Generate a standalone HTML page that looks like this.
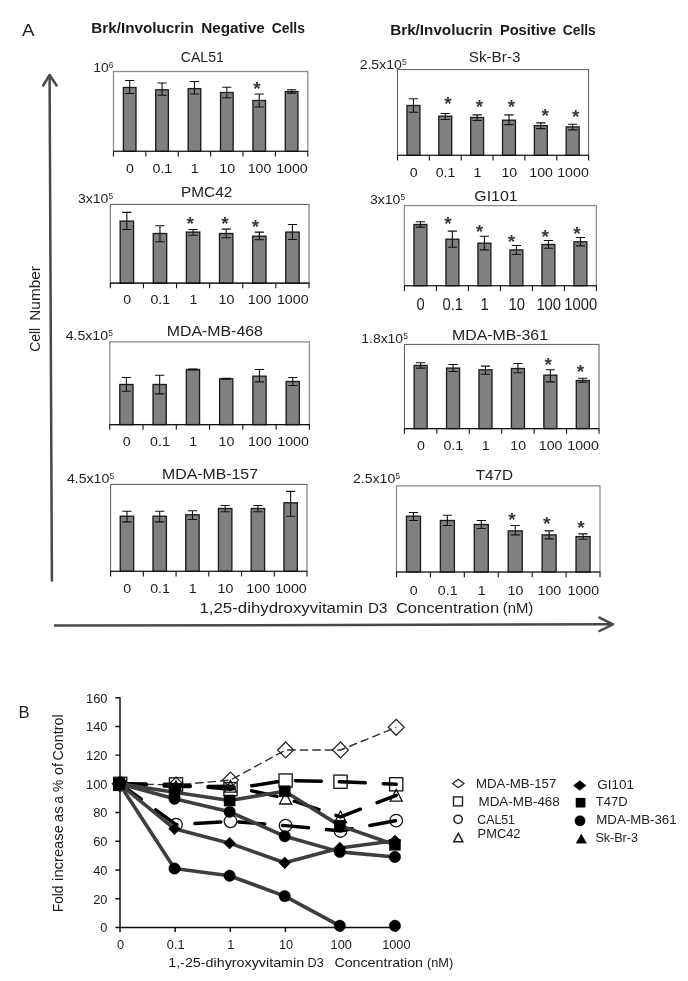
<!DOCTYPE html>
<html lang="en">
<head>
<meta charset="utf-8">
<title>Figure: Cell number vs 1,25-dihydroxyvitamin D3 concentration</title>
<style>
html,body{margin:0;padding:0;background:#fff;}
body{width:688px;height:981px;position:relative;overflow:hidden;font-family:'Liberation Sans', Arial, sans-serif;}
svg text{white-space:pre;}
</style>
</head>
<body>
<svg width="688" height="981" viewBox="0 0 688 981" style="display:block;position:absolute;left:0;top:0">
<rect width="688" height="981" fill="#fff"/>
<text x="22" y="35.7" font-family="'Liberation Sans', Arial, sans-serif" font-size="16.5" fill="#222" textLength="12.5" lengthAdjust="spacingAndGlyphs">A</text>
<text x="91.3" y="32.7" font-family="'Liberation Sans', Arial, sans-serif" font-size="15" font-weight="bold" fill="#1a1a1a" textLength="102.5" lengthAdjust="spacingAndGlyphs">Brk/Involucrin</text>
<text x="201.2" y="32.7" font-family="'Liberation Sans', Arial, sans-serif" font-size="15" font-weight="bold" fill="#1a1a1a" textLength="63.6" lengthAdjust="spacingAndGlyphs">Negative</text>
<text x="271.7" y="32.7" font-family="'Liberation Sans', Arial, sans-serif" font-size="15" font-weight="bold" fill="#1a1a1a" textLength="33.2" lengthAdjust="spacingAndGlyphs">Cells</text>
<text x="390.2" y="34.8" font-family="'Liberation Sans', Arial, sans-serif" font-size="15" font-weight="bold" fill="#1a1a1a" textLength="102.5" lengthAdjust="spacingAndGlyphs">Brk/Involucrin</text>
<text x="499.9" y="34.8" font-family="'Liberation Sans', Arial, sans-serif" font-size="15" font-weight="bold" fill="#1a1a1a" textLength="56.2" lengthAdjust="spacingAndGlyphs">Positive</text>
<text x="562.7" y="34.8" font-family="'Liberation Sans', Arial, sans-serif" font-size="15" font-weight="bold" fill="#1a1a1a" textLength="33.1" lengthAdjust="spacingAndGlyphs">Cells</text>
<g fill="none" stroke="#484848" stroke-width="2.5" stroke-linecap="round" stroke-linejoin="round">
<path d="M51.9 580.5 L49.6 75.5"/>
<path d="M43.2 85.5 L49.6 75 L56.6 85.5"/>
<path d="M55 625.6 L612.5 624.3"/>
<path d="M599.5 617.6 L613 624.3 L599.5 631"/>
</g>
<text transform="translate(39.8,351.8) rotate(-90)" font-family="'Liberation Sans', Arial, sans-serif" font-size="14" fill="#222" textLength="24" lengthAdjust="spacingAndGlyphs">Cell</text>
<text transform="translate(39.8,320.8) rotate(-90)" font-family="'Liberation Sans', Arial, sans-serif" font-size="14" fill="#222" textLength="54.8" lengthAdjust="spacingAndGlyphs">Number</text>
<text x="199.5" y="612.5" font-family="'Liberation Sans', Arial, sans-serif" font-size="14" font-weight="normal" fill="#222" textLength="163.5" lengthAdjust="spacingAndGlyphs">1,25-dihydroxyvitamin</text>
<text x="368" y="612.5" font-family="'Liberation Sans', Arial, sans-serif" font-size="14" font-weight="normal" fill="#222" textLength="19.3" lengthAdjust="spacingAndGlyphs">D3</text>
<text x="395.9" y="612.5" font-family="'Liberation Sans', Arial, sans-serif" font-size="14" font-weight="normal" fill="#222" textLength="103.3" lengthAdjust="spacingAndGlyphs">Concentration</text>
<text x="502.7" y="612.5" font-family="'Liberation Sans', Arial, sans-serif" font-size="14" font-weight="normal" fill="#222" textLength="30.6" lengthAdjust="spacingAndGlyphs">(nM)</text>
<g>
<rect x="113.5" y="71.5" width="194.3" height="79.8" fill="#fff" stroke="#8c8c8c" stroke-width="1.3"/>
<rect x="123.39" y="87.5" width="12.6" height="63.8" fill="#808080" stroke="#1c1c1c" stroke-width="1.35"/>
<path d="M129.69 80.5V93.5M125.09 80.5H134.29M125.09 93.5H134.29" stroke="#111" stroke-width="1.1" fill="none"/>
<rect x="155.77" y="89.8" width="12.6" height="61.5" fill="#808080" stroke="#1c1c1c" stroke-width="1.35"/>
<path d="M162.07 83V95.3M157.47 83H166.67M157.47 95.3H166.67" stroke="#111" stroke-width="1.1" fill="none"/>
<rect x="188.16" y="88.6" width="12.6" height="62.7" fill="#808080" stroke="#1c1c1c" stroke-width="1.35"/>
<path d="M194.46 81.5V94M189.86 81.5H199.06M189.86 94H199.06" stroke="#111" stroke-width="1.1" fill="none"/>
<rect x="220.54" y="92.5" width="12.6" height="58.8" fill="#808080" stroke="#1c1c1c" stroke-width="1.35"/>
<path d="M226.84 87.3V97.8M222.24 87.3H231.44M222.24 97.8H231.44" stroke="#111" stroke-width="1.1" fill="none"/>
<rect x="252.93" y="100.5" width="12.6" height="50.8" fill="#808080" stroke="#1c1c1c" stroke-width="1.35"/>
<path d="M259.23 94V107M254.63 94H263.83M254.63 107H263.83" stroke="#111" stroke-width="1.1" fill="none"/>
<rect x="285.31" y="91.5" width="12.6" height="59.8" fill="#808080" stroke="#1c1c1c" stroke-width="1.35"/>
<path d="M291.61 89.8V93.1M287.01 89.8H296.21M287.01 93.1H296.21" stroke="#111" stroke-width="1.1" fill="none"/>
<path d="M113 151.3H308.3M113.5 151.3V156.5M145.88 151.3V156.5M178.27 151.3V156.5M210.65 151.3V156.5M243.03 151.3V156.5M275.42 151.3V156.5M307.8 151.3V156.5" stroke="#111" stroke-width="1.1" fill="none"/>
<text transform="translate(129.99,172.95) scale(1.06,1)" text-anchor="middle" font-family="'Liberation Sans', Arial, sans-serif" font-size="13.4" fill="#1a1a1a">0</text>
<text transform="translate(162.38,172.95) scale(1.06,1)" text-anchor="middle" font-family="'Liberation Sans', Arial, sans-serif" font-size="13.4" fill="#1a1a1a">0.1</text>
<text transform="translate(194.76,172.95) scale(1.06,1)" text-anchor="middle" font-family="'Liberation Sans', Arial, sans-serif" font-size="13.4" fill="#1a1a1a">1</text>
<text transform="translate(227.14,172.95) scale(1.06,1)" text-anchor="middle" font-family="'Liberation Sans', Arial, sans-serif" font-size="13.4" fill="#1a1a1a">10</text>
<text transform="translate(259.53,172.95) scale(1.06,1)" text-anchor="middle" font-family="'Liberation Sans', Arial, sans-serif" font-size="13.4" fill="#1a1a1a">100</text>
<text transform="translate(291.91,172.95) scale(1.06,1)" text-anchor="middle" font-family="'Liberation Sans', Arial, sans-serif" font-size="13.4" fill="#1a1a1a">1000</text>
<text x="180.8" y="62.3" font-family="'Liberation Sans', Arial, sans-serif" font-size="14.2" fill="#222" textLength="43.1" lengthAdjust="spacingAndGlyphs">CAL51</text>
<text x="93.15" y="71.9" font-family="'Liberation Sans', Arial, sans-serif" font-size="13.1" fill="#222" textLength="15.5" lengthAdjust="spacingAndGlyphs">10</text>
<text x="108.85" y="67.7" font-family="'Liberation Sans', Arial, sans-serif" font-size="8.4" fill="#333">6</text>
<text x="256.9" y="94.7" text-anchor="middle" font-family="'Liberation Sans', Arial, sans-serif" font-size="19" font-weight="bold" fill="#3a3a3a">*</text>
</g>
<g>
<rect x="110.3" y="204.4" width="198.7" height="78.7" fill="#fff" stroke="#5c5c5c" stroke-width="1.0"/>
<rect x="120.16" y="221.1" width="13.4" height="62" fill="#808080" stroke="#1c1c1c" stroke-width="1.35"/>
<path d="M126.86 212.4V229.5M122.26 212.4H131.46M122.26 229.5H131.46" stroke="#111" stroke-width="1.1" fill="none"/>
<rect x="153.28" y="233.5" width="13.4" height="49.6" fill="#808080" stroke="#1c1c1c" stroke-width="1.35"/>
<path d="M159.97 225.8V241.8M155.38 225.8H164.57M155.38 241.8H164.57" stroke="#111" stroke-width="1.1" fill="none"/>
<rect x="186.39" y="232.1" width="13.4" height="51" fill="#808080" stroke="#1c1c1c" stroke-width="1.35"/>
<path d="M193.09 229.5V235.2M188.49 229.5H197.69M188.49 235.2H197.69" stroke="#111" stroke-width="1.1" fill="none"/>
<rect x="219.51" y="233.5" width="13.4" height="49.6" fill="#808080" stroke="#1c1c1c" stroke-width="1.35"/>
<path d="M226.21 229.1V237.8M221.61 229.1H230.81M221.61 237.8H230.81" stroke="#111" stroke-width="1.1" fill="none"/>
<rect x="252.62" y="236.2" width="13.4" height="46.9" fill="#808080" stroke="#1c1c1c" stroke-width="1.35"/>
<path d="M259.32 232.1V239.8M254.72 232.1H263.93M254.72 239.8H263.93" stroke="#111" stroke-width="1.1" fill="none"/>
<rect x="285.74" y="232.1" width="13.4" height="51" fill="#808080" stroke="#1c1c1c" stroke-width="1.35"/>
<path d="M292.44 224.5V239.5M287.84 224.5H297.04M287.84 239.5H297.04" stroke="#111" stroke-width="1.1" fill="none"/>
<path d="M109.8 283.1H309.5M110.3 283.1V288.3M143.42 283.1V288.3M176.53 283.1V288.3M209.65 283.1V288.3M242.77 283.1V288.3M275.88 283.1V288.3M309 283.1V288.3" stroke="#111" stroke-width="1.1" fill="none"/>
<text transform="translate(127.16,304.4) scale(1.06,1)" text-anchor="middle" font-family="'Liberation Sans', Arial, sans-serif" font-size="13.4" fill="#1a1a1a">0</text>
<text transform="translate(160.28,304.4) scale(1.06,1)" text-anchor="middle" font-family="'Liberation Sans', Arial, sans-serif" font-size="13.4" fill="#1a1a1a">0.1</text>
<text transform="translate(193.39,304.4) scale(1.06,1)" text-anchor="middle" font-family="'Liberation Sans', Arial, sans-serif" font-size="13.4" fill="#1a1a1a">1</text>
<text transform="translate(226.51,304.4) scale(1.06,1)" text-anchor="middle" font-family="'Liberation Sans', Arial, sans-serif" font-size="13.4" fill="#1a1a1a">10</text>
<text transform="translate(259.62,304.4) scale(1.06,1)" text-anchor="middle" font-family="'Liberation Sans', Arial, sans-serif" font-size="13.4" fill="#1a1a1a">100</text>
<text transform="translate(292.74,304.4) scale(1.06,1)" text-anchor="middle" font-family="'Liberation Sans', Arial, sans-serif" font-size="13.4" fill="#1a1a1a">1000</text>
<text x="181.1" y="197.1" font-family="'Liberation Sans', Arial, sans-serif" font-size="14.2" fill="#222" textLength="51.1" lengthAdjust="spacingAndGlyphs">PMC42</text>
<text x="77.9" y="202.75" font-family="'Liberation Sans', Arial, sans-serif" font-size="13.1" fill="#222" textLength="30.45" lengthAdjust="spacingAndGlyphs">3x10</text>
<text x="108.55" y="198.55" font-family="'Liberation Sans', Arial, sans-serif" font-size="8.4" fill="#333">5</text>
<text x="190.3" y="229.8" text-anchor="middle" font-family="'Liberation Sans', Arial, sans-serif" font-size="19" font-weight="bold" fill="#3a3a3a">*</text>
<text x="225" y="229.8" text-anchor="middle" font-family="'Liberation Sans', Arial, sans-serif" font-size="19" font-weight="bold" fill="#3a3a3a">*</text>
<text x="255.5" y="232.7" text-anchor="middle" font-family="'Liberation Sans', Arial, sans-serif" font-size="19" font-weight="bold" fill="#3a3a3a">*</text>
</g>
<g>
<rect x="109.75" y="341.9" width="199.65" height="82.7" fill="#fff" stroke="#8c8c8c" stroke-width="1.3"/>
<rect x="119.79" y="384.5" width="13.2" height="40.1" fill="#808080" stroke="#1c1c1c" stroke-width="1.35"/>
<path d="M126.39 377.5V391.2M121.79 377.5H130.99M121.79 391.2H130.99" stroke="#111" stroke-width="1.1" fill="none"/>
<rect x="153.06" y="384.5" width="13.2" height="40.1" fill="#808080" stroke="#1c1c1c" stroke-width="1.35"/>
<path d="M159.66 375.2V393.9M155.06 375.2H164.26M155.06 393.9H164.26" stroke="#111" stroke-width="1.1" fill="none"/>
<rect x="186.34" y="369.5" width="13.2" height="55.1" fill="#808080" stroke="#1c1c1c" stroke-width="1.35"/>
<path d="M192.94 369V370M188.34 369H197.54M188.34 370H197.54" stroke="#111" stroke-width="1.1" fill="none"/>
<rect x="219.61" y="378.8" width="13.2" height="45.8" fill="#808080" stroke="#1c1c1c" stroke-width="1.35"/>
<path d="M226.21 378.3V379.3M221.61 378.3H230.81M221.61 379.3H230.81" stroke="#111" stroke-width="1.1" fill="none"/>
<rect x="252.89" y="376.2" width="13.2" height="48.4" fill="#808080" stroke="#1c1c1c" stroke-width="1.35"/>
<path d="M259.49 369.5V381.9M254.89 369.5H264.09M254.89 381.9H264.09" stroke="#111" stroke-width="1.1" fill="none"/>
<rect x="286.16" y="381.5" width="13.2" height="43.1" fill="#808080" stroke="#1c1c1c" stroke-width="1.35"/>
<path d="M292.76 377.5V385.5M288.16 377.5H297.36M288.16 385.5H297.36" stroke="#111" stroke-width="1.1" fill="none"/>
<path d="M109.25 424.6H309.9M109.75 424.6V429.8M143.03 424.6V429.8M176.3 424.6V429.8M209.57 424.6V429.8M242.85 424.6V429.8M276.12 424.6V429.8M309.4 424.6V429.8" stroke="#111" stroke-width="1.1" fill="none"/>
<text transform="translate(126.69,446.2) scale(1.06,1)" text-anchor="middle" font-family="'Liberation Sans', Arial, sans-serif" font-size="13.4" fill="#1a1a1a">0</text>
<text transform="translate(159.96,446.2) scale(1.06,1)" text-anchor="middle" font-family="'Liberation Sans', Arial, sans-serif" font-size="13.4" fill="#1a1a1a">0.1</text>
<text transform="translate(193.24,446.2) scale(1.06,1)" text-anchor="middle" font-family="'Liberation Sans', Arial, sans-serif" font-size="13.4" fill="#1a1a1a">1</text>
<text transform="translate(226.51,446.2) scale(1.06,1)" text-anchor="middle" font-family="'Liberation Sans', Arial, sans-serif" font-size="13.4" fill="#1a1a1a">10</text>
<text transform="translate(259.79,446.2) scale(1.06,1)" text-anchor="middle" font-family="'Liberation Sans', Arial, sans-serif" font-size="13.4" fill="#1a1a1a">100</text>
<text transform="translate(293.06,446.2) scale(1.06,1)" text-anchor="middle" font-family="'Liberation Sans', Arial, sans-serif" font-size="13.4" fill="#1a1a1a">1000</text>
<text x="166.7" y="335.9" font-family="'Liberation Sans', Arial, sans-serif" font-size="14.2" fill="#222" textLength="96.2" lengthAdjust="spacingAndGlyphs">MDA-MB-468</text>
<text x="65.65" y="340" font-family="'Liberation Sans', Arial, sans-serif" font-size="13.1" fill="#222" textLength="42.45" lengthAdjust="spacingAndGlyphs">4.5x10</text>
<text x="108.3" y="335.8" font-family="'Liberation Sans', Arial, sans-serif" font-size="8.4" fill="#333">5</text>
</g>
<g>
<rect x="110.6" y="484.4" width="196.4" height="86.9" fill="#fff" stroke="#5c5c5c" stroke-width="1.0"/>
<rect x="120.27" y="516.2" width="13.4" height="55.1" fill="#808080" stroke="#1c1c1c" stroke-width="1.35"/>
<path d="M126.97 511.2V521.9M122.37 511.2H131.57M122.37 521.9H131.57" stroke="#111" stroke-width="1.1" fill="none"/>
<rect x="153" y="516.2" width="13.4" height="55.1" fill="#808080" stroke="#1c1c1c" stroke-width="1.35"/>
<path d="M159.7 511.2V521.9M155.1 511.2H164.3M155.1 521.9H164.3" stroke="#111" stroke-width="1.1" fill="none"/>
<rect x="185.73" y="514.8" width="13.4" height="56.5" fill="#808080" stroke="#1c1c1c" stroke-width="1.35"/>
<path d="M192.43 510.8V519.5M187.83 510.8H197.03M187.83 519.5H197.03" stroke="#111" stroke-width="1.1" fill="none"/>
<rect x="218.47" y="508.5" width="13.4" height="62.8" fill="#808080" stroke="#1c1c1c" stroke-width="1.35"/>
<path d="M225.17 505.5V511.8M220.57 505.5H229.77M220.57 511.8H229.77" stroke="#111" stroke-width="1.1" fill="none"/>
<rect x="251.2" y="508.5" width="13.4" height="62.8" fill="#808080" stroke="#1c1c1c" stroke-width="1.35"/>
<path d="M257.9 505.5V511.8M253.3 505.5H262.5M253.3 511.8H262.5" stroke="#111" stroke-width="1.1" fill="none"/>
<rect x="283.93" y="502.8" width="13.4" height="68.5" fill="#808080" stroke="#1c1c1c" stroke-width="1.35"/>
<path d="M290.63 491.4V516.2M286.03 491.4H295.23M286.03 516.2H295.23" stroke="#111" stroke-width="1.1" fill="none"/>
<path d="M110.1 571.3H307.5M110.6 571.3V576.5M143.33 571.3V576.5M176.07 571.3V576.5M208.8 571.3V576.5M241.53 571.3V576.5M274.27 571.3V576.5M307 571.3V576.5" stroke="#111" stroke-width="1.1" fill="none"/>
<text transform="translate(127.27,593.1) scale(1.06,1)" text-anchor="middle" font-family="'Liberation Sans', Arial, sans-serif" font-size="13.4" fill="#1a1a1a">0</text>
<text transform="translate(160,593.1) scale(1.06,1)" text-anchor="middle" font-family="'Liberation Sans', Arial, sans-serif" font-size="13.4" fill="#1a1a1a">0.1</text>
<text transform="translate(192.73,593.1) scale(1.06,1)" text-anchor="middle" font-family="'Liberation Sans', Arial, sans-serif" font-size="13.4" fill="#1a1a1a">1</text>
<text transform="translate(225.47,593.1) scale(1.06,1)" text-anchor="middle" font-family="'Liberation Sans', Arial, sans-serif" font-size="13.4" fill="#1a1a1a">10</text>
<text transform="translate(258.2,593.1) scale(1.06,1)" text-anchor="middle" font-family="'Liberation Sans', Arial, sans-serif" font-size="13.4" fill="#1a1a1a">100</text>
<text transform="translate(290.93,593.1) scale(1.06,1)" text-anchor="middle" font-family="'Liberation Sans', Arial, sans-serif" font-size="13.4" fill="#1a1a1a">1000</text>
<text x="162" y="478.7" font-family="'Liberation Sans', Arial, sans-serif" font-size="14.2" fill="#222" textLength="96" lengthAdjust="spacingAndGlyphs">MDA-MB-157</text>
<text x="66.9" y="482.75" font-family="'Liberation Sans', Arial, sans-serif" font-size="13.1" fill="#222" textLength="42.45" lengthAdjust="spacingAndGlyphs">4.5x10</text>
<text x="109.55" y="478.55" font-family="'Liberation Sans', Arial, sans-serif" font-size="8.4" fill="#333">5</text>
</g>
<g>
<rect x="397.5" y="69.6" width="191.1" height="85.7" fill="#fff" stroke="#5c5c5c" stroke-width="1.0"/>
<rect x="406.98" y="105.5" width="12.9" height="49.8" fill="#808080" stroke="#1c1c1c" stroke-width="1.35"/>
<path d="M413.43 98.8V112.2M408.82 98.8H418.03M408.82 112.2H418.03" stroke="#111" stroke-width="1.1" fill="none"/>
<rect x="438.82" y="116.2" width="12.9" height="39.1" fill="#808080" stroke="#1c1c1c" stroke-width="1.35"/>
<path d="M445.27 113.5V119.5M440.67 113.5H449.88M440.67 119.5H449.88" stroke="#111" stroke-width="1.1" fill="none"/>
<rect x="470.68" y="117.5" width="12.9" height="37.8" fill="#808080" stroke="#1c1c1c" stroke-width="1.35"/>
<path d="M477.12 114.9V120.5M472.52 114.9H481.73M472.52 120.5H481.73" stroke="#111" stroke-width="1.1" fill="none"/>
<rect x="502.53" y="120.2" width="12.9" height="35.1" fill="#808080" stroke="#1c1c1c" stroke-width="1.35"/>
<path d="M508.98 114.9V124.6M504.38 114.9H513.58M504.38 124.6H513.58" stroke="#111" stroke-width="1.1" fill="none"/>
<rect x="534.38" y="125.6" width="12.9" height="29.7" fill="#808080" stroke="#1c1c1c" stroke-width="1.35"/>
<path d="M540.83 122.9V128.6M536.23 122.9H545.43M536.23 128.6H545.43" stroke="#111" stroke-width="1.1" fill="none"/>
<rect x="566.23" y="126.9" width="12.9" height="28.4" fill="#808080" stroke="#1c1c1c" stroke-width="1.35"/>
<path d="M572.68 124.2V129.9M568.08 124.2H577.28M568.08 129.9H577.28" stroke="#111" stroke-width="1.1" fill="none"/>
<path d="M397 155.3H589.1M397.5 155.3V160.5M429.35 155.3V160.5M461.2 155.3V160.5M493.05 155.3V160.5M524.9 155.3V160.5M556.75 155.3V160.5M588.6 155.3V160.5" stroke="#111" stroke-width="1.1" fill="none"/>
<text transform="translate(413.73,176.6) scale(1.06,1)" text-anchor="middle" font-family="'Liberation Sans', Arial, sans-serif" font-size="13.4" fill="#1a1a1a">0</text>
<text transform="translate(445.57,176.6) scale(1.06,1)" text-anchor="middle" font-family="'Liberation Sans', Arial, sans-serif" font-size="13.4" fill="#1a1a1a">0.1</text>
<text transform="translate(477.43,176.6) scale(1.06,1)" text-anchor="middle" font-family="'Liberation Sans', Arial, sans-serif" font-size="13.4" fill="#1a1a1a">1</text>
<text transform="translate(509.28,176.6) scale(1.06,1)" text-anchor="middle" font-family="'Liberation Sans', Arial, sans-serif" font-size="13.4" fill="#1a1a1a">10</text>
<text transform="translate(541.12,176.6) scale(1.06,1)" text-anchor="middle" font-family="'Liberation Sans', Arial, sans-serif" font-size="13.4" fill="#1a1a1a">100</text>
<text transform="translate(572.98,176.6) scale(1.06,1)" text-anchor="middle" font-family="'Liberation Sans', Arial, sans-serif" font-size="13.4" fill="#1a1a1a">1000</text>
<text x="468.7" y="62.3" font-family="'Liberation Sans', Arial, sans-serif" font-size="14.2" fill="#222" textLength="51.8" lengthAdjust="spacingAndGlyphs">Sk-Br-3</text>
<text x="359.65" y="69" font-family="'Liberation Sans', Arial, sans-serif" font-size="13.1" fill="#222" textLength="42.2" lengthAdjust="spacingAndGlyphs">2.5x10</text>
<text x="402.05" y="64.8" font-family="'Liberation Sans', Arial, sans-serif" font-size="8.4" fill="#333">5</text>
<text x="447.9" y="110" text-anchor="middle" font-family="'Liberation Sans', Arial, sans-serif" font-size="19" font-weight="bold" fill="#3a3a3a">*</text>
<text x="479.5" y="112.6" text-anchor="middle" font-family="'Liberation Sans', Arial, sans-serif" font-size="19" font-weight="bold" fill="#3a3a3a">*</text>
<text x="511.4" y="112.6" text-anchor="middle" font-family="'Liberation Sans', Arial, sans-serif" font-size="19" font-weight="bold" fill="#3a3a3a">*</text>
<text x="545.1" y="121.9" text-anchor="middle" font-family="'Liberation Sans', Arial, sans-serif" font-size="19" font-weight="bold" fill="#3a3a3a">*</text>
<text x="575.8" y="123.1" text-anchor="middle" font-family="'Liberation Sans', Arial, sans-serif" font-size="19" font-weight="bold" fill="#3a3a3a">*</text>
</g>
<g>
<rect x="404.4" y="205.6" width="192" height="80.1" fill="#fff" stroke="#8c8c8c" stroke-width="1.3"/>
<rect x="413.95" y="224.5" width="12.9" height="61.2" fill="#808080" stroke="#1c1c1c" stroke-width="1.35"/>
<path d="M420.4 221.8V227.1M415.8 221.8H425M415.8 227.1H425" stroke="#111" stroke-width="1.1" fill="none"/>
<rect x="445.95" y="239.2" width="12.9" height="46.5" fill="#808080" stroke="#1c1c1c" stroke-width="1.35"/>
<path d="M452.4 231.1V247.2M447.8 231.1H457M447.8 247.2H457" stroke="#111" stroke-width="1.1" fill="none"/>
<rect x="477.95" y="243.2" width="12.9" height="42.5" fill="#808080" stroke="#1c1c1c" stroke-width="1.35"/>
<path d="M484.4 236.2V249.9M479.8 236.2H489M479.8 249.9H489" stroke="#111" stroke-width="1.1" fill="none"/>
<rect x="509.95" y="249.9" width="12.9" height="35.8" fill="#808080" stroke="#1c1c1c" stroke-width="1.35"/>
<path d="M516.4 245.5V254.5M511.8 245.5H521M511.8 254.5H521" stroke="#111" stroke-width="1.1" fill="none"/>
<rect x="541.95" y="244.5" width="12.9" height="41.2" fill="#808080" stroke="#1c1c1c" stroke-width="1.35"/>
<path d="M548.4 240.5V248.2M543.8 240.5H553M543.8 248.2H553" stroke="#111" stroke-width="1.1" fill="none"/>
<rect x="573.95" y="241.8" width="12.9" height="43.9" fill="#808080" stroke="#1c1c1c" stroke-width="1.35"/>
<path d="M580.4 237.5V245.9M575.8 237.5H585M575.8 245.9H585" stroke="#111" stroke-width="1.1" fill="none"/>
<path d="M403.9 285.7H596.9M404.4 285.7V290.9M436.4 285.7V290.9M468.4 285.7V290.9M500.4 285.7V290.9M532.4 285.7V290.9M564.4 285.7V290.9M596.4 285.7V290.9" stroke="#111" stroke-width="1.1" fill="none"/>
<text transform="translate(420.7,310.01) scale(0.88,1)" text-anchor="middle" font-family="'Liberation Sans', Arial, sans-serif" font-size="16.8" fill="#1a1a1a">0</text>
<text transform="translate(452.7,310.01) scale(0.88,1)" text-anchor="middle" font-family="'Liberation Sans', Arial, sans-serif" font-size="16.8" fill="#1a1a1a">0.1</text>
<text transform="translate(484.7,310.01) scale(0.88,1)" text-anchor="middle" font-family="'Liberation Sans', Arial, sans-serif" font-size="16.8" fill="#1a1a1a">1</text>
<text transform="translate(516.7,310.01) scale(0.88,1)" text-anchor="middle" font-family="'Liberation Sans', Arial, sans-serif" font-size="16.8" fill="#1a1a1a">10</text>
<text transform="translate(548.7,310.01) scale(0.88,1)" text-anchor="middle" font-family="'Liberation Sans', Arial, sans-serif" font-size="16.8" fill="#1a1a1a">100</text>
<text transform="translate(580.7,310.01) scale(0.88,1)" text-anchor="middle" font-family="'Liberation Sans', Arial, sans-serif" font-size="16.8" fill="#1a1a1a">1000</text>
<text x="474.3" y="200.8" font-family="'Liberation Sans', Arial, sans-serif" font-size="14.2" fill="#222" textLength="43.4" lengthAdjust="spacingAndGlyphs">GI101</text>
<text x="370" y="203.75" font-family="'Liberation Sans', Arial, sans-serif" font-size="13.1" fill="#222" textLength="30.35" lengthAdjust="spacingAndGlyphs">3x10</text>
<text x="400.55" y="199.55" font-family="'Liberation Sans', Arial, sans-serif" font-size="8.4" fill="#333">5</text>
<text x="447.9" y="230" text-anchor="middle" font-family="'Liberation Sans', Arial, sans-serif" font-size="19" font-weight="bold" fill="#3a3a3a">*</text>
<text x="479.5" y="237.7" text-anchor="middle" font-family="'Liberation Sans', Arial, sans-serif" font-size="19" font-weight="bold" fill="#3a3a3a">*</text>
<text x="511.4" y="247.5" text-anchor="middle" font-family="'Liberation Sans', Arial, sans-serif" font-size="19" font-weight="bold" fill="#3a3a3a">*</text>
<text x="545.1" y="243.3" text-anchor="middle" font-family="'Liberation Sans', Arial, sans-serif" font-size="19" font-weight="bold" fill="#3a3a3a">*</text>
<text x="577" y="239.6" text-anchor="middle" font-family="'Liberation Sans', Arial, sans-serif" font-size="19" font-weight="bold" fill="#3a3a3a">*</text>
</g>
<g>
<rect x="404.4" y="344.4" width="194.6" height="84.2" fill="#fff" stroke="#5c5c5c" stroke-width="1.0"/>
<rect x="414.12" y="365.5" width="13" height="63.1" fill="#808080" stroke="#1c1c1c" stroke-width="1.35"/>
<path d="M420.62 362.8V368.1M416.02 362.8H425.22M416.02 368.1H425.22" stroke="#111" stroke-width="1.1" fill="none"/>
<rect x="446.55" y="368.1" width="13" height="60.5" fill="#808080" stroke="#1c1c1c" stroke-width="1.35"/>
<path d="M453.05 364.5V371.5M448.45 364.5H457.65M448.45 371.5H457.65" stroke="#111" stroke-width="1.1" fill="none"/>
<rect x="478.98" y="369.8" width="13" height="58.8" fill="#808080" stroke="#1c1c1c" stroke-width="1.35"/>
<path d="M485.48 366.1V374.2M480.88 366.1H490.08M480.88 374.2H490.08" stroke="#111" stroke-width="1.1" fill="none"/>
<rect x="511.42" y="368.5" width="13" height="60.1" fill="#808080" stroke="#1c1c1c" stroke-width="1.35"/>
<path d="M517.92 363.5V372.8M513.32 363.5H522.52M513.32 372.8H522.52" stroke="#111" stroke-width="1.1" fill="none"/>
<rect x="543.85" y="375.2" width="13" height="53.4" fill="#808080" stroke="#1c1c1c" stroke-width="1.35"/>
<path d="M550.35 369.8V381.9M545.75 369.8H554.95M545.75 381.9H554.95" stroke="#111" stroke-width="1.1" fill="none"/>
<rect x="576.28" y="380.5" width="13" height="48.1" fill="#808080" stroke="#1c1c1c" stroke-width="1.35"/>
<path d="M582.78 378.2V382.2M578.18 378.2H587.38M578.18 382.2H587.38" stroke="#111" stroke-width="1.1" fill="none"/>
<path d="M403.9 428.6H599.5M404.4 428.6V433.8M436.83 428.6V433.8M469.27 428.6V433.8M501.7 428.6V433.8M534.13 428.6V433.8M566.57 428.6V433.8M599 428.6V433.8" stroke="#111" stroke-width="1.1" fill="none"/>
<text transform="translate(420.92,449.9) scale(1.06,1)" text-anchor="middle" font-family="'Liberation Sans', Arial, sans-serif" font-size="13.4" fill="#1a1a1a">0</text>
<text transform="translate(453.35,449.9) scale(1.06,1)" text-anchor="middle" font-family="'Liberation Sans', Arial, sans-serif" font-size="13.4" fill="#1a1a1a">0.1</text>
<text transform="translate(485.78,449.9) scale(1.06,1)" text-anchor="middle" font-family="'Liberation Sans', Arial, sans-serif" font-size="13.4" fill="#1a1a1a">1</text>
<text transform="translate(518.22,449.9) scale(1.06,1)" text-anchor="middle" font-family="'Liberation Sans', Arial, sans-serif" font-size="13.4" fill="#1a1a1a">10</text>
<text transform="translate(550.65,449.9) scale(1.06,1)" text-anchor="middle" font-family="'Liberation Sans', Arial, sans-serif" font-size="13.4" fill="#1a1a1a">100</text>
<text transform="translate(583.08,449.9) scale(1.06,1)" text-anchor="middle" font-family="'Liberation Sans', Arial, sans-serif" font-size="13.4" fill="#1a1a1a">1000</text>
<text x="452" y="339.7" font-family="'Liberation Sans', Arial, sans-serif" font-size="14.2" fill="#222" textLength="96" lengthAdjust="spacingAndGlyphs">MDA-MB-361</text>
<text x="361.3" y="342.75" font-family="'Liberation Sans', Arial, sans-serif" font-size="13.1" fill="#222" textLength="41.8" lengthAdjust="spacingAndGlyphs">1.8x10</text>
<text x="403.3" y="338.55" font-family="'Liberation Sans', Arial, sans-serif" font-size="8.4" fill="#333">5</text>
<text x="548.2" y="371.1" text-anchor="middle" font-family="'Liberation Sans', Arial, sans-serif" font-size="19" font-weight="bold" fill="#3a3a3a">*</text>
<text x="580.5" y="377.6" text-anchor="middle" font-family="'Liberation Sans', Arial, sans-serif" font-size="19" font-weight="bold" fill="#3a3a3a">*</text>
</g>
<g>
<rect x="396.5" y="485.9" width="203.5" height="86.1" fill="#fff" stroke="#8c8c8c" stroke-width="1.3"/>
<rect x="406.46" y="516.2" width="14" height="55.8" fill="#808080" stroke="#1c1c1c" stroke-width="1.35"/>
<path d="M413.46 512.5V520.5M408.86 512.5H418.06M408.86 520.5H418.06" stroke="#111" stroke-width="1.1" fill="none"/>
<rect x="440.38" y="520.5" width="14" height="51.5" fill="#808080" stroke="#1c1c1c" stroke-width="1.35"/>
<path d="M447.38 515.2V525.5M442.77 515.2H451.98M442.77 525.5H451.98" stroke="#111" stroke-width="1.1" fill="none"/>
<rect x="474.29" y="524.5" width="14" height="47.5" fill="#808080" stroke="#1c1c1c" stroke-width="1.35"/>
<path d="M481.29 520.5V528.5M476.69 520.5H485.89M476.69 528.5H485.89" stroke="#111" stroke-width="1.1" fill="none"/>
<rect x="508.21" y="530.9" width="14" height="41.1" fill="#808080" stroke="#1c1c1c" stroke-width="1.35"/>
<path d="M515.21 525.5V534.9M510.61 525.5H519.81M510.61 534.9H519.81" stroke="#111" stroke-width="1.1" fill="none"/>
<rect x="542.12" y="534.9" width="14" height="37.1" fill="#808080" stroke="#1c1c1c" stroke-width="1.35"/>
<path d="M549.12 530.9V538.9M544.52 530.9H553.73M544.52 538.9H553.73" stroke="#111" stroke-width="1.1" fill="none"/>
<rect x="576.04" y="536.6" width="14" height="35.4" fill="#808080" stroke="#1c1c1c" stroke-width="1.35"/>
<path d="M583.04 533.9V539.2M578.44 533.9H587.64M578.44 539.2H587.64" stroke="#111" stroke-width="1.1" fill="none"/>
<path d="M396 572H600.5M396.5 572V577.2M430.42 572V577.2M464.33 572V577.2M498.25 572V577.2M532.17 572V577.2M566.08 572V577.2M600 572V577.2" stroke="#111" stroke-width="1.1" fill="none"/>
<text transform="translate(413.76,594.55) scale(1.06,1)" text-anchor="middle" font-family="'Liberation Sans', Arial, sans-serif" font-size="13.4" fill="#1a1a1a">0</text>
<text transform="translate(447.68,594.55) scale(1.06,1)" text-anchor="middle" font-family="'Liberation Sans', Arial, sans-serif" font-size="13.4" fill="#1a1a1a">0.1</text>
<text transform="translate(481.59,594.55) scale(1.06,1)" text-anchor="middle" font-family="'Liberation Sans', Arial, sans-serif" font-size="13.4" fill="#1a1a1a">1</text>
<text transform="translate(515.51,594.55) scale(1.06,1)" text-anchor="middle" font-family="'Liberation Sans', Arial, sans-serif" font-size="13.4" fill="#1a1a1a">10</text>
<text transform="translate(549.42,594.55) scale(1.06,1)" text-anchor="middle" font-family="'Liberation Sans', Arial, sans-serif" font-size="13.4" fill="#1a1a1a">100</text>
<text transform="translate(583.34,594.55) scale(1.06,1)" text-anchor="middle" font-family="'Liberation Sans', Arial, sans-serif" font-size="13.4" fill="#1a1a1a">1000</text>
<text x="475.7" y="480.3" font-family="'Liberation Sans', Arial, sans-serif" font-size="14.2" fill="#222" textLength="37.3" lengthAdjust="spacingAndGlyphs">T47D</text>
<text x="352.9" y="482.75" font-family="'Liberation Sans', Arial, sans-serif" font-size="13.1" fill="#222" textLength="42.45" lengthAdjust="spacingAndGlyphs">2.5x10</text>
<text x="395.55" y="478.55" font-family="'Liberation Sans', Arial, sans-serif" font-size="8.4" fill="#333">5</text>
<text x="511.9" y="526" text-anchor="middle" font-family="'Liberation Sans', Arial, sans-serif" font-size="19" font-weight="bold" fill="#3a3a3a">*</text>
<text x="546.7" y="529.9" text-anchor="middle" font-family="'Liberation Sans', Arial, sans-serif" font-size="19" font-weight="bold" fill="#3a3a3a">*</text>
<text x="581" y="534.1" text-anchor="middle" font-family="'Liberation Sans', Arial, sans-serif" font-size="19" font-weight="bold" fill="#3a3a3a">*</text>
</g>
<text x="18.6" y="717.9" font-family="'Liberation Sans', Arial, sans-serif" font-size="16.6" fill="#222">B</text>
<path d="M120 697.22V927.4H395.75M115.4 927.4H120M115.4 898.69H120M115.4 869.98H120M115.4 841.27H120M115.4 812.56H120M115.4 783.85H120M115.4 755.14H120M115.4 726.43H120M115.4 697.72H120M120 927.4V931.9M175.15 927.4V931.9M230.3 927.4V931.9M285.45 927.4V931.9M340.6 927.4V931.9M395.75 927.4V931.9" stroke="#0c0c0c" stroke-width="1.45" fill="none"/>
<text transform="translate(107.4,932.3) scale(1.05,1)" text-anchor="end" font-family="'Liberation Sans', Arial, sans-serif" font-size="12.2" fill="#1a1a1a">0</text>
<text transform="translate(107.4,903.59) scale(1.05,1)" text-anchor="end" font-family="'Liberation Sans', Arial, sans-serif" font-size="12.2" fill="#1a1a1a">20</text>
<text transform="translate(107.4,874.88) scale(1.05,1)" text-anchor="end" font-family="'Liberation Sans', Arial, sans-serif" font-size="12.2" fill="#1a1a1a">40</text>
<text transform="translate(107.4,846.17) scale(1.05,1)" text-anchor="end" font-family="'Liberation Sans', Arial, sans-serif" font-size="12.2" fill="#1a1a1a">60</text>
<text transform="translate(107.4,817.46) scale(1.05,1)" text-anchor="end" font-family="'Liberation Sans', Arial, sans-serif" font-size="12.2" fill="#1a1a1a">80</text>
<text transform="translate(107.4,788.75) scale(1.05,1)" text-anchor="end" font-family="'Liberation Sans', Arial, sans-serif" font-size="12.2" fill="#1a1a1a">100</text>
<text transform="translate(107.4,760.04) scale(1.05,1)" text-anchor="end" font-family="'Liberation Sans', Arial, sans-serif" font-size="12.2" fill="#1a1a1a">120</text>
<text transform="translate(107.4,731.33) scale(1.05,1)" text-anchor="end" font-family="'Liberation Sans', Arial, sans-serif" font-size="12.2" fill="#1a1a1a">140</text>
<text transform="translate(107.4,702.62) scale(1.05,1)" text-anchor="end" font-family="'Liberation Sans', Arial, sans-serif" font-size="12.2" fill="#1a1a1a">160</text>
<text transform="translate(120.6,949.1) scale(1.03,1)" text-anchor="middle" font-family="'Liberation Sans', Arial, sans-serif" font-size="12.4" fill="#1a1a1a">0</text>
<text transform="translate(175.75,949.1) scale(1.03,1)" text-anchor="middle" font-family="'Liberation Sans', Arial, sans-serif" font-size="12.4" fill="#1a1a1a">0.1</text>
<text transform="translate(230.9,949.1) scale(1.03,1)" text-anchor="middle" font-family="'Liberation Sans', Arial, sans-serif" font-size="12.4" fill="#1a1a1a">1</text>
<text transform="translate(286.05,949.1) scale(1.03,1)" text-anchor="middle" font-family="'Liberation Sans', Arial, sans-serif" font-size="12.4" fill="#1a1a1a">10</text>
<text transform="translate(341.2,949.1) scale(1.03,1)" text-anchor="middle" font-family="'Liberation Sans', Arial, sans-serif" font-size="12.4" fill="#1a1a1a">100</text>
<text transform="translate(396.35,949.1) scale(1.03,1)" text-anchor="middle" font-family="'Liberation Sans', Arial, sans-serif" font-size="12.4" fill="#1a1a1a">1000</text>
<text x="168.2" y="967" font-family="'Liberation Sans', Arial, sans-serif" font-size="13.4" font-weight="normal" fill="#1a1a1a" textLength="136" lengthAdjust="spacingAndGlyphs">1,-25-dihyroxyvitamin</text>
<text x="307.5" y="967" font-family="'Liberation Sans', Arial, sans-serif" font-size="13.4" font-weight="normal" fill="#1a1a1a" textLength="16.3" lengthAdjust="spacingAndGlyphs">D3</text>
<text x="334.4" y="967" font-family="'Liberation Sans', Arial, sans-serif" font-size="13.4" font-weight="normal" fill="#1a1a1a" textLength="88.6" lengthAdjust="spacingAndGlyphs">Concentration</text>
<text x="427" y="967" font-family="'Liberation Sans', Arial, sans-serif" font-size="13.4" font-weight="normal" fill="#1a1a1a" textLength="26.2" lengthAdjust="spacingAndGlyphs">(nM)</text>
<text transform="translate(63.3,912.1) rotate(-90)" font-family="'Liberation Sans', Arial, sans-serif" font-size="15" fill="#1a1a1a" textLength="26.4" lengthAdjust="spacingAndGlyphs">Fold</text>
<text transform="translate(63.3,880.9) rotate(-90)" font-family="'Liberation Sans', Arial, sans-serif" font-size="15" fill="#1a1a1a" textLength="55.8" lengthAdjust="spacingAndGlyphs">increase</text>
<text transform="translate(63.3,822.2) rotate(-90)" font-family="'Liberation Sans', Arial, sans-serif" font-size="15" fill="#1a1a1a" textLength="15.9" lengthAdjust="spacingAndGlyphs">as</text>
<text transform="translate(63.3,803.5) rotate(-90)" font-family="'Liberation Sans', Arial, sans-serif" font-size="15" fill="#1a1a1a" textLength="7.4" lengthAdjust="spacingAndGlyphs">a</text>
<text transform="translate(63.3,792) rotate(-90)" font-family="'Liberation Sans', Arial, sans-serif" font-size="15" fill="#1a1a1a" textLength="12.2" lengthAdjust="spacingAndGlyphs">%</text>
<text transform="translate(63.3,774.9) rotate(-90)" font-family="'Liberation Sans', Arial, sans-serif" font-size="15" fill="#1a1a1a" textLength="11.8" lengthAdjust="spacingAndGlyphs">of</text>
<text transform="translate(63.3,760.5) rotate(-90)" font-family="'Liberation Sans', Arial, sans-serif" font-size="15" fill="#1a1a1a" textLength="46.2" lengthAdjust="spacingAndGlyphs">Control</text>
<polyline points="120.2,783.85 176,785 230.5,780.12 285.6,749.97 340.5,749.97 396.2,727.29" fill="none" stroke="#333" stroke-width="1.4" stroke-dasharray="8.5 4"/>
<g fill="none" stroke="#000" stroke-width="3.5" stroke-linecap="round" stroke-dasharray="26 18">
<polyline points="120.2,783.85 176,784.42 230.5,789.16 285.6,780.55 340.5,781.7 396.2,784.28"/>
<polyline points="120.2,783.85 176,824.62 230.5,821.32 285.6,825.62 340.5,830.93 396.2,820.6"/>
<polyline points="120.2,783.85 176,786.58 230.5,786.29 285.6,798.2 340.5,816.87 396.2,795.33"/>
</g>
<g>
<path d="M120.2 775.85L128.2 783.85L120.2 791.85L112.2 783.85Z" fill="none" stroke="#222" stroke-width="1.2"/>
<path d="M176 777L184 785L176 793L168 785Z" fill="none" stroke="#222" stroke-width="1.2"/>
<path d="M230.5 772.12L238.5 780.12L230.5 788.12L222.5 780.12Z" fill="none" stroke="#222" stroke-width="1.2"/>
<path d="M285.6 741.97L293.6 749.97L285.6 757.97L277.6 749.97Z" fill="none" stroke="#222" stroke-width="1.2"/>
<path d="M340.5 741.97L348.5 749.97L340.5 757.97L332.5 749.97Z" fill="none" stroke="#222" stroke-width="1.2"/>
<path d="M396.2 719.29L404.2 727.29L396.2 735.29L388.2 727.29Z" fill="none" stroke="#222" stroke-width="1.2"/>
<rect x="113.6" y="777.25" width="13.2" height="13.2" fill="none" stroke="#111" stroke-width="1.3"/>
<rect x="169.4" y="777.82" width="13.2" height="13.2" fill="none" stroke="#111" stroke-width="1.3"/>
<rect x="223.9" y="782.56" width="13.2" height="13.2" fill="none" stroke="#111" stroke-width="1.3"/>
<rect x="279" y="773.95" width="13.2" height="13.2" fill="none" stroke="#111" stroke-width="1.3"/>
<rect x="333.9" y="775.1" width="13.2" height="13.2" fill="none" stroke="#111" stroke-width="1.3"/>
<rect x="389.6" y="777.68" width="13.2" height="13.2" fill="none" stroke="#111" stroke-width="1.3"/>
<circle cx="120.2" cy="783.85" r="6.3" fill="none" stroke="#111" stroke-width="1.3"/>
<circle cx="176" cy="824.62" r="6.3" fill="none" stroke="#111" stroke-width="1.3"/>
<circle cx="230.5" cy="821.32" r="6.3" fill="none" stroke="#111" stroke-width="1.3"/>
<circle cx="285.6" cy="825.62" r="6.3" fill="none" stroke="#111" stroke-width="1.3"/>
<circle cx="340.5" cy="830.93" r="6.3" fill="none" stroke="#111" stroke-width="1.3"/>
<circle cx="396.2" cy="820.6" r="6.3" fill="none" stroke="#111" stroke-width="1.3"/>
<path d="M120.2 778.05L126.2 789.65L114.2 789.65Z" fill="none" stroke="#111" stroke-width="1.3"/>
<path d="M176 780.78L182 792.38L170 792.38Z" fill="none" stroke="#111" stroke-width="1.3"/>
<path d="M230.5 780.49L236.5 792.09L224.5 792.09Z" fill="none" stroke="#111" stroke-width="1.3"/>
<path d="M285.6 792.4L291.6 804L279.6 804Z" fill="none" stroke="#111" stroke-width="1.3"/>
<path d="M340.5 811.07L346.5 822.67L334.5 822.67Z" fill="none" stroke="#111" stroke-width="1.3"/>
<path d="M396.2 789.53L402.2 801.13L390.2 801.13Z" fill="none" stroke="#111" stroke-width="1.3"/>
</g>
<g fill="none" stroke="#3e3e3e" stroke-width="3.6" stroke-linejoin="round" stroke-linecap="round">
<polyline points="119.4,783.85 174.5,828.78 229.6,843.14 284.7,862.8 339.8,848.02 394.9,840.84"/>
<polyline points="119.4,783.85 174.5,792.32 229.6,800.5 284.7,791.31 339.8,825.62 394.9,844.72"/>
<polyline points="119.4,783.85 174.5,868.54 229.6,875.72 284.7,896.11 339.8,925.82"/>
<polyline points="119.4,783.85 174.5,798.78 229.6,811.84 284.7,836.25 339.8,851.89 394.9,856.92"/>
</g>
<g>
<path d="M119.4 777.95L125.3 783.85L119.4 789.75L113.5 783.85Z" fill="#000" stroke="#000" stroke-width="0.5"/>
<path d="M174.5 822.88L180.4 828.78L174.5 834.68L168.6 828.78Z" fill="#000" stroke="#000" stroke-width="0.5"/>
<path d="M229.6 837.24L235.5 843.14L229.6 849.04L223.7 843.14Z" fill="#000" stroke="#000" stroke-width="0.5"/>
<path d="M284.7 856.9L290.6 862.8L284.7 868.7L278.8 862.8Z" fill="#000" stroke="#000" stroke-width="0.5"/>
<path d="M339.8 842.12L345.7 848.02L339.8 853.92L333.9 848.02Z" fill="#000" stroke="#000" stroke-width="0.5"/>
<path d="M394.9 834.94L400.8 840.84L394.9 846.74L389 840.84Z" fill="#000" stroke="#000" stroke-width="0.5"/>
<rect x="113.9" y="778.35" width="11" height="11" fill="#000" stroke="#000" stroke-width="0.5"/>
<rect x="169" y="786.82" width="11" height="11" fill="#000" stroke="#000" stroke-width="0.5"/>
<rect x="224.1" y="795" width="11" height="11" fill="#000" stroke="#000" stroke-width="0.5"/>
<rect x="279.2" y="785.81" width="11" height="11" fill="#000" stroke="#000" stroke-width="0.5"/>
<rect x="334.3" y="820.12" width="11" height="11" fill="#000" stroke="#000" stroke-width="0.5"/>
<rect x="389.4" y="839.22" width="11" height="11" fill="#000" stroke="#000" stroke-width="0.5"/>
<circle cx="119.4" cy="783.85" r="5.7" fill="#000" stroke="#000" stroke-width="0.5"/>
<circle cx="174.5" cy="868.54" r="5.7" fill="#000" stroke="#000" stroke-width="0.5"/>
<circle cx="229.6" cy="875.72" r="5.7" fill="#000" stroke="#000" stroke-width="0.5"/>
<circle cx="284.7" cy="896.11" r="5.7" fill="#000" stroke="#000" stroke-width="0.5"/>
<circle cx="339.8" cy="925.82" r="5.7" fill="#000" stroke="#000" stroke-width="0.5"/>
<circle cx="394.9" cy="925.82" r="5.7" fill="#000" stroke="#000" stroke-width="0.5"/>
<circle cx="119.4" cy="783.85" r="5.7" fill="#000" stroke="#000" stroke-width="0.5"/>
<circle cx="174.5" cy="798.78" r="5.7" fill="#000" stroke="#000" stroke-width="0.5"/>
<circle cx="229.6" cy="811.84" r="5.7" fill="#000" stroke="#000" stroke-width="0.5"/>
<circle cx="284.7" cy="836.25" r="5.7" fill="#000" stroke="#000" stroke-width="0.5"/>
<circle cx="339.8" cy="851.89" r="5.7" fill="#000" stroke="#000" stroke-width="0.5"/>
<circle cx="394.9" cy="856.92" r="5.7" fill="#000" stroke="#000" stroke-width="0.5"/>
</g>
<g>
<path d="M458.3 779.3L463.9 783.5L458.3 787.7L452.7 783.5Z" fill="none" stroke="#2a2a2a" stroke-width="1.3" stroke-linejoin="miter"/>
<rect x="453.5" y="796.9" width="9" height="9" fill="none" stroke="#222" stroke-width="1.4"/>
<circle cx="458.1" cy="819.3" r="4.15" fill="none" stroke="#222" stroke-width="1.5"/>
<path d="M458.3 833.4L462.9 841.8L453.7 841.8Z" fill="none" stroke="#222" stroke-width="1.5"/>
<path d="M579.8 780.6L586.2 785.5L579.8 790.4L573.4 785.5Z" fill="#000" stroke="#000" stroke-width="0.3" stroke-linejoin="miter"/>
<rect x="575.9" y="798" width="9.4" height="9.4" fill="#000" stroke="#000" stroke-width="0.2"/>
<circle cx="580" cy="820.8" r="5.3" fill="#000" stroke="#000" stroke-width="0.2"/>
<path d="M581.3 834L586.5 843.2L576.1 843.2Z" fill="#000" stroke="#000" stroke-width="0.4"/>
<text x="475.9" y="787.8" font-family="'Liberation Sans', Arial, sans-serif" font-size="12.6" fill="#222" textLength="80.4" lengthAdjust="spacingAndGlyphs">MDA-MB-157</text>
<text x="478.5" y="806.3" font-family="'Liberation Sans', Arial, sans-serif" font-size="12.6" fill="#222" textLength="81.3" lengthAdjust="spacingAndGlyphs">MDA-MB-468</text>
<text x="477.3" y="823.7" font-family="'Liberation Sans', Arial, sans-serif" font-size="12.6" fill="#222" textLength="37.6" lengthAdjust="spacingAndGlyphs">CAL51</text>
<text x="477.6" y="838.4" font-family="'Liberation Sans', Arial, sans-serif" font-size="12.6" fill="#222" textLength="42.9" lengthAdjust="spacingAndGlyphs">PMC42</text>
<text x="597.2" y="789.2" font-family="'Liberation Sans', Arial, sans-serif" font-size="12.6" fill="#222" textLength="36.7" lengthAdjust="spacingAndGlyphs">GI101</text>
<text x="595.8" y="806.3" font-family="'Liberation Sans', Arial, sans-serif" font-size="12.6" fill="#222" textLength="32" lengthAdjust="spacingAndGlyphs">T47D</text>
<text x="596.3" y="823.7" font-family="'Liberation Sans', Arial, sans-serif" font-size="12.6" fill="#222" textLength="80.3" lengthAdjust="spacingAndGlyphs">MDA-MB-361</text>
<text x="595.4" y="841.9" font-family="'Liberation Sans', Arial, sans-serif" font-size="12.6" fill="#222" textLength="42.5" lengthAdjust="spacingAndGlyphs">Sk-Br-3</text>
</g>
</svg>
</body>
</html>
